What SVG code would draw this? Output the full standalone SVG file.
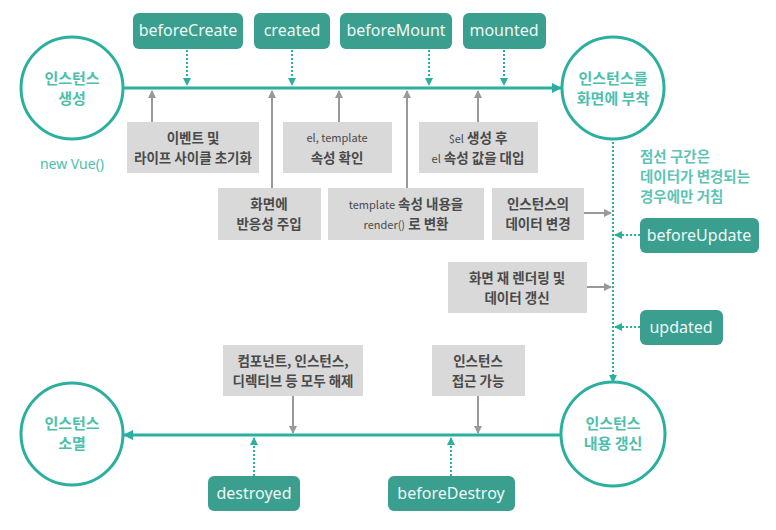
<svg xmlns="http://www.w3.org/2000/svg" width="776" height="530" viewBox="0 0 776 530">
<defs>
<style>
.circ{fill:#fff;stroke:#2bb09f;stroke-width:3}
.ctext{font-family:"Noto Sans CJK KR","Noto Sans",sans-serif;font-size:15px;font-weight:bold;fill:#4cc0ad;text-anchor:middle}
.hook{fill:#3a9f8f}
.htext{font-family:"Noto Sans","Noto Sans CJK KR",sans-serif;font-size:16px;fill:#eef8f6;text-anchor:middle}
.gbox{fill:#d9d9d9}
.gtext{font-family:"Noto Sans CJK KR","Noto Sans",sans-serif;font-size:13.5px;font-weight:bold;fill:#4a4a4a;text-anchor:middle}
.gsmall{font-size:11px;font-weight:normal}
.main{stroke:#2bb09f;stroke-width:3;fill:none}
.garr{stroke:#999;stroke-width:2;fill:none}
.dot{stroke:#2bb09f;stroke-width:2;stroke-dasharray:2 2;fill:none}
.note{font-family:"Noto Sans CJK KR","Noto Sans",sans-serif;font-size:14.5px;font-weight:bold;fill:#5cc4b3}
</style>
<marker id="ta" markerWidth="10" markerHeight="10" refX="9" refY="5" orient="auto" markerUnits="userSpaceOnUse"><path d="M0,0 L10,5 L0,10 z" fill="#2bb09f"/></marker>
<marker id="ts" markerWidth="8" markerHeight="8" refX="7" refY="4" orient="auto" markerUnits="userSpaceOnUse"><path d="M0,0 L8,4 L0,8 z" fill="#2bb09f"/></marker>
<marker id="ga" markerWidth="8" markerHeight="8" refX="7" refY="4" orient="auto" markerUnits="userSpaceOnUse"><path d="M0,0 L8,4 L0,8 z" fill="#999"/></marker>
</defs>
<rect width="776" height="530" fill="#fff"/>

<g id="connectors">
<line class="main" x1="123" y1="88" x2="561" y2="88" marker-end="url(#ta)"/>
<line class="main" x1="562" y1="435" x2="124" y2="435" marker-end="url(#ta)"/>
<line class="dot" x1="613" y1="142" x2="613" y2="382" marker-end="url(#ts)"/>
<line class="dot" x1="187" y1="50" x2="187" y2="85" marker-end="url(#ts)"/>
<line class="dot" x1="292" y1="50" x2="292" y2="85" marker-end="url(#ts)"/>
<line class="dot" x1="429" y1="50" x2="429" y2="85" marker-end="url(#ts)"/>
<line class="dot" x1="504" y1="50" x2="504" y2="85" marker-end="url(#ts)"/>
<line class="dot" x1="640" y1="235" x2="615" y2="235" marker-end="url(#ts)"/>
<line class="dot" x1="640" y1="327" x2="615" y2="327" marker-end="url(#ts)"/>
<line class="dot" x1="254" y1="476" x2="254" y2="438" marker-end="url(#ts)"/>
<line class="dot" x1="451" y1="476" x2="451" y2="438" marker-end="url(#ts)"/>
<line class="garr" x1="152" y1="122" x2="152" y2="91" marker-end="url(#ga)"/>
<line class="garr" x1="272" y1="188" x2="272" y2="91" marker-end="url(#ga)"/>
<line class="garr" x1="339" y1="122" x2="339" y2="91" marker-end="url(#ga)"/>
<line class="garr" x1="407" y1="188" x2="407" y2="91" marker-end="url(#ga)"/>
<line class="garr" x1="478" y1="122" x2="478" y2="91" marker-end="url(#ga)"/>
<line class="garr" x1="584" y1="213" x2="611" y2="213" marker-end="url(#ga)"/>
<line class="garr" x1="587" y1="287" x2="611" y2="287" marker-end="url(#ga)"/>
<line class="garr" x1="293" y1="396" x2="293" y2="433" marker-end="url(#ga)"/>
<line class="garr" x1="478" y1="396" x2="478" y2="433" marker-end="url(#ga)"/>
</g>

<g id="c-create"><circle class="circ" cx="72" cy="88" r="51"/><text class="ctext" x="72" y="84">인스턴스</text><text class="ctext" x="72" y="104">생성</text></g>
<g id="newvue"><text x="72" y="169" font-family="'Noto Sans',sans-serif" font-size="14" fill="#4cc0ad" text-anchor="middle">new Vue()</text></g>
<g id="c-mount"><circle class="circ" cx="613" cy="88" r="51"/><text class="ctext" x="613" y="84">인스턴스를</text><text class="ctext" x="613" y="104">화면에 부착</text></g>
<g id="c-update"><circle class="circ" cx="613" cy="434" r="52"/><text class="ctext" x="613" y="429">인스턴스</text><text class="ctext" x="613" y="449">내용 갱신</text></g>
<g id="c-destroy"><circle class="circ" cx="72" cy="434" r="51"/><text class="ctext" x="72" y="429">인스턴스</text><text class="ctext" x="72" y="449">소멸</text></g>

<g id="h-beforeCreate"><rect class="hook" x="133" y="13" width="110" height="36" rx="6"/><text class="htext" x="188" y="36">beforeCreate</text></g>
<g id="h-created"><rect class="hook" x="254" y="13" width="76" height="36" rx="6"/><text class="htext" x="292" y="36">created</text></g>
<g id="h-beforeMount"><rect class="hook" x="340" y="13" width="112" height="36" rx="6"/><text class="htext" x="396" y="36">beforeMount</text></g>
<g id="h-mounted"><rect class="hook" x="463" y="13" width="83" height="36" rx="6"/><text class="htext" x="504" y="36">mounted</text></g>
<g id="h-beforeUpdate"><rect class="hook" x="640" y="218" width="119" height="35" rx="6"/><text class="htext" x="699" y="241">beforeUpdate</text></g>
<g id="h-updated"><rect class="hook" x="640" y="310" width="83" height="35" rx="6"/><text class="htext" x="681" y="333">updated</text></g>
<g id="h-destroyed"><rect class="hook" x="208" y="476" width="92" height="35" rx="6"/><text class="htext" x="254" y="499">destroyed</text></g>
<g id="h-beforeDestroy"><rect class="hook" x="388" y="476" width="127" height="35" rx="6"/><text class="htext" x="451" y="499">beforeDestroy</text></g>

<g id="b-init"><rect class="gbox" x="127" y="122" width="132" height="51"/><text class="gtext" x="193" y="143">이벤트 및</text><text class="gtext" x="193" y="163">라이프 사이클 초기화</text></g>
<g id="b-eltemplate"><rect class="gbox" x="283" y="122" width="109" height="51"/><text class="gtext gsmall" x="337" y="142">el, template</text><text class="gtext" x="337" y="163">속성 확인</text></g>
<g id="b-el"><rect class="gbox" x="419" y="122" width="119" height="51"/><text class="gtext" x="478" y="143"><tspan font-size="11" font-weight="normal">$el</tspan> 생성 후</text><text class="gtext" x="478" y="163"><tspan font-size="11" font-weight="normal">el</tspan> 속성 값을 대입</text></g>
<g id="b-reactive"><rect class="gbox" x="218" y="188" width="103" height="52"/><text class="gtext" x="269" y="209">화면에</text><text class="gtext" x="269" y="229">반응성 주입</text></g>
<g id="b-render"><rect class="gbox" x="328" y="188" width="156" height="52"/><text class="gtext" x="406" y="209"><tspan font-size="11" font-weight="normal">template</tspan> 속성 내용을</text><text class="gtext" x="406" y="229"><tspan font-size="11" font-weight="normal">render()</tspan> 로 변환</text></g>
<g id="b-datachange"><rect class="gbox" x="492" y="188" width="92" height="52"/><text class="gtext" x="538" y="209">인스턴스의</text><text class="gtext" x="538" y="229">데이터 변경</text></g>
<g id="b-rerender"><rect class="gbox" x="448" y="262" width="139" height="51"/><text class="gtext" x="517" y="283">화면 재 렌더링 및</text><text class="gtext" x="517" y="303">데이터 갱신</text></g>
<g id="b-teardown"><rect class="gbox" x="223" y="345" width="140" height="51"/><text class="gtext" x="293" y="366">컴포넌트, 인스턴스,</text><text class="gtext" x="293" y="386">디렉티브 등 모두 해제</text></g>
<g id="b-access"><rect class="gbox" x="432" y="345" width="93" height="51"/><text class="gtext" x="478" y="366">인스턴스</text><text class="gtext" x="478" y="386">접근 가능</text></g>

<g id="note"><text class="note" x="640" y="162">점선 구간은</text><text class="note" x="640" y="182">데이터가 변경되는</text><text class="note" x="640" y="202">경우에만 거침</text></g>
</svg>
